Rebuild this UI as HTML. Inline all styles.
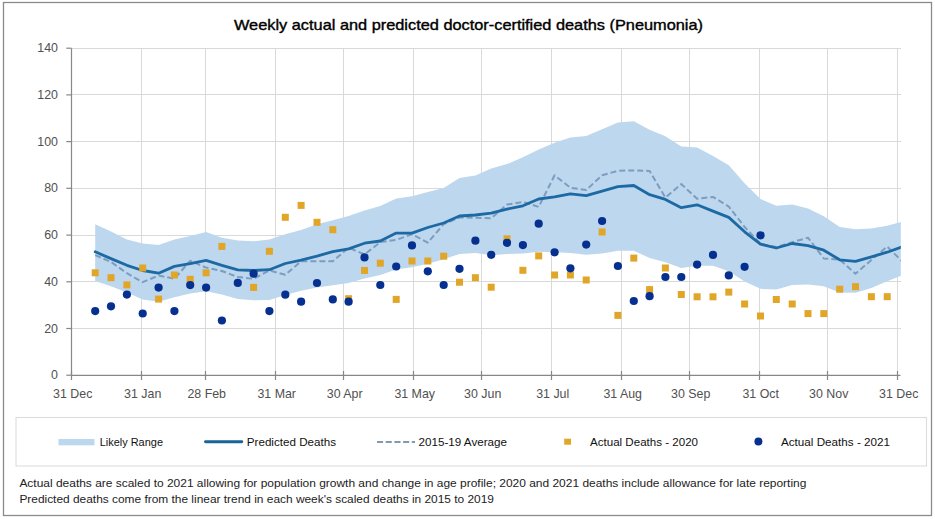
<!DOCTYPE html>
<html><head><meta charset="utf-8"><style>
html,body{margin:0;padding:0;background:#fff;}
body{width:935px;height:519px;overflow:hidden;}
svg{display:block;font-family:"Liberation Sans",sans-serif;}
</style></head><body>
<svg width="935" height="519" viewBox="0 0 935 519">
<rect x="0" y="0" width="935" height="519" fill="#fff"/>
<rect x="3.5" y="2.5" width="928" height="513" fill="none" stroke="#8a8a8a" stroke-width="1.3"/>
<text x="234" y="29.7" font-size="13.9" fill="#000" stroke="#000" stroke-width="0.35" textLength="469" lengthAdjust="spacingAndGlyphs">Weekly actual and predicted doctor-certified deaths (Pneumonia)</text>
<defs><clipPath id="pc"><rect x="72" y="40" width="828.8" height="336"/></clipPath></defs>
<g stroke="#d9d9d9" stroke-width="1" shape-rendering="crispEdges"><line x1="71.5" y1="328.5" x2="900.5" y2="328.5"/><line x1="71.5" y1="281.8" x2="900.5" y2="281.8"/><line x1="71.5" y1="235.1" x2="900.5" y2="235.1"/><line x1="71.5" y1="188.3" x2="900.5" y2="188.3"/><line x1="71.5" y1="141.6" x2="900.5" y2="141.6"/><line x1="71.5" y1="94.9" x2="900.5" y2="94.9"/><line x1="71.5" y1="48.2" x2="900.5" y2="48.2"/><line x1="141.5" y1="48.2" x2="141.5" y2="375.3"/><line x1="205.5" y1="48.2" x2="205.5" y2="375.3"/><line x1="275.5" y1="48.2" x2="275.5" y2="375.3"/><line x1="343.5" y1="48.2" x2="343.5" y2="375.3"/><line x1="413.5" y1="48.2" x2="413.5" y2="375.3"/><line x1="481.5" y1="48.2" x2="481.5" y2="375.3"/><line x1="551.5" y1="48.2" x2="551.5" y2="375.3"/><line x1="621.5" y1="48.2" x2="621.5" y2="375.3"/><line x1="689.5" y1="48.2" x2="689.5" y2="375.3"/><line x1="759.5" y1="48.2" x2="759.5" y2="375.3"/><line x1="827.5" y1="48.2" x2="827.5" y2="375.3"/><line x1="897.5" y1="48.2" x2="897.5" y2="375.3"/></g>
<g clip-path="url(#pc)">
<path d="M95.2,224.3 L111,231.5 L126.9,239.4 L142.7,243.5 L158.6,245 L174.4,239.4 L190.2,236 L206.1,232 L221.9,237.8 L237.8,240.5 L253.6,241.2 L269.4,239.5 L285.3,234.2 L301.1,230 L317,224.2 L332.8,220.2 L348.6,216 L364.5,210.5 L380.3,206 L396.2,198.5 L412,196.3 L427.8,192 L443.7,188 L459.5,178 L475.4,175.5 L491.2,168.6 L507,164.1 L522.9,157.3 L538.7,149.4 L554.6,142.7 L570.4,137.5 L586.2,135.9 L602.1,129.2 L617.9,122.4 L633.8,121.3 L649.6,129.8 L665.4,136.2 L681.3,146.4 L697.1,147.4 L713,155.9 L728.8,165.3 L744.6,183.2 L760.5,199 L776.3,205.7 L792.2,204.4 L808,208.6 L823.8,216.2 L839.7,227 L855.5,229.3 L871.4,228.4 L887.2,225.7 L903,221.5 L903,275 L887.2,281.2 L871.4,287.9 L855.5,292.7 L839.7,292.5 L823.8,286.2 L808,284.4 L792.2,284.9 L776.3,289.6 L760.5,288.8 L744.6,281.5 L728.8,271.3 L713,265.7 L697.1,265.7 L681.3,268 L665.4,262.3 L649.6,258 L633.8,250.7 L617.9,250.7 L602.1,253.6 L586.2,254.8 L570.4,253 L554.6,252.3 L538.7,251.8 L522.9,253.6 L507,254.1 L491.2,255.2 L475.4,253 L459.5,254 L443.7,259.3 L427.8,263.8 L412,267.2 L396.2,269.4 L380.3,275.1 L364.5,278.4 L348.6,283 L332.8,285.2 L317,287.5 L301.1,290.8 L285.3,295 L269.4,300 L253.6,300.2 L237.8,299.1 L221.9,294.6 L206.1,291.2 L190.2,293.5 L174.4,297.3 L158.6,301.8 L142.7,299.6 L126.9,292.4 L111,286.3 L95.2,281.1 Z" fill="#bdd7ee"/>
<polyline points="95.2,255.2 111,261.9 126.9,273.2 142.7,282.2 158.6,275.5 174.4,278.8 190.2,260.8 206.1,267.6 221.9,271 237.8,277 253.6,278.8 269.4,270.4 285.3,274.8 301.1,261.3 317,261.3 332.8,261.3 348.6,247.7 364.5,254.5 380.3,242.1 396.2,239.9 412,234.2 427.8,242.6 443.7,224.1 459.5,217.5 475.4,217.7 491.2,218.2 507,204.6 522.9,201.9 538.7,206.9 554.6,175.3 570.4,187.7 586.2,190 602.1,175.3 617.9,170.8 633.8,170.4 649.6,171 665.4,197.6 681.3,184.1 697.1,198.7 713,196.9 728.8,206.6 744.6,226.9 760.5,243.8 776.3,247.1 792.2,242.2 808,237.7 823.8,258.5 839.7,259.6 855.5,273.7 871.4,260 887.2,246.6 903,262.2" fill="none" stroke="#7c9dbf" stroke-width="2" stroke-dasharray="6 3" stroke-linejoin="round"/>
<polyline points="95.2,251.8 111,258.6 126.9,265.3 142.7,270.5 158.6,273.2 174.4,266.4 190.2,263.7 206.1,260.4 221.9,265.3 237.8,269.8 253.6,270.5 269.4,269.7 285.3,263.5 301.1,260.1 317,256.1 332.8,251.6 348.6,248.9 364.5,243.2 380.3,241 396.2,233.1 412,233.1 427.8,227.5 443.7,223 459.5,216 475.4,215 491.2,213.2 507,209.1 522.9,205.8 538.7,199 554.6,196.8 570.4,193.8 586.2,195.6 602.1,191.1 617.9,186.6 633.8,185.5 649.6,194.7 665.4,199.4 681.3,207.7 697.1,204.8 713,211.1 728.8,217.4 744.6,231.8 760.5,244.2 776.3,248 792.2,243.5 808,245.6 823.8,250.2 839.7,259.8 855.5,261.4 871.4,256.8 887.2,252.2 903,246.5" fill="none" stroke="#1c69a4" stroke-width="2.8" stroke-linejoin="round" stroke-linecap="round"/>
<g fill="#e1a527"><rect x="91.7" y="269.3" width="7" height="7"/><rect x="107.5" y="274.2" width="7" height="7"/><rect x="123.4" y="281.4" width="7" height="7"/><rect x="139.2" y="264.5" width="7" height="7"/><rect x="155.1" y="295.6" width="7" height="7"/><rect x="170.9" y="271.5" width="7" height="7"/><rect x="186.7" y="275.8" width="7" height="7"/><rect x="202.6" y="269.3" width="7" height="7"/><rect x="218.4" y="242.9" width="7" height="7"/><rect x="250.1" y="283.9" width="7" height="7"/><rect x="265.9" y="247.8" width="7" height="7"/><rect x="281.8" y="213.8" width="7" height="7"/><rect x="297.6" y="201.9" width="7" height="7"/><rect x="313.5" y="218.8" width="7" height="7"/><rect x="329.3" y="226.2" width="7" height="7"/><rect x="345.1" y="295.2" width="7" height="7"/><rect x="361" y="267" width="7" height="7"/><rect x="376.8" y="259.7" width="7" height="7"/><rect x="392.7" y="295.9" width="7" height="7"/><rect x="408.5" y="257.5" width="7" height="7"/><rect x="424.3" y="257.5" width="7" height="7"/><rect x="440.2" y="252.7" width="7" height="7"/><rect x="456" y="278.7" width="7" height="7"/><rect x="471.9" y="274.2" width="7" height="7"/><rect x="487.7" y="283.7" width="7" height="7"/><rect x="503.5" y="235.3" width="7" height="7"/><rect x="519.4" y="266.8" width="7" height="7"/><rect x="535.2" y="252.4" width="7" height="7"/><rect x="551.1" y="271.5" width="7" height="7"/><rect x="566.9" y="271.5" width="7" height="7"/><rect x="582.7" y="276.5" width="7" height="7"/><rect x="598.6" y="228.5" width="7" height="7"/><rect x="614.4" y="311.9" width="7" height="7"/><rect x="630.3" y="254.6" width="7" height="7"/><rect x="646.1" y="286.1" width="7" height="7"/><rect x="661.9" y="264.5" width="7" height="7"/><rect x="677.8" y="291" width="7" height="7"/><rect x="693.6" y="293.3" width="7" height="7"/><rect x="709.5" y="293.3" width="7" height="7"/><rect x="725.3" y="288.6" width="7" height="7"/><rect x="741.1" y="300.5" width="7" height="7"/><rect x="757" y="312.5" width="7" height="7"/><rect x="772.8" y="296" width="7" height="7"/><rect x="788.7" y="300.5" width="7" height="7"/><rect x="804.5" y="310.1" width="7" height="7"/><rect x="820.3" y="310.1" width="7" height="7"/><rect x="836.2" y="285.7" width="7" height="7"/><rect x="852" y="283.2" width="7" height="7"/><rect x="867.9" y="293.2" width="7" height="7"/><rect x="883.7" y="293.2" width="7" height="7"/></g>
<g fill="#06308f"><circle cx="95.2" cy="311.1" r="4.1"/><circle cx="111" cy="306.3" r="4.1"/><circle cx="126.9" cy="294.6" r="4.1"/><circle cx="142.7" cy="313.5" r="4.1"/><circle cx="158.6" cy="287.6" r="4.1"/><circle cx="174.4" cy="311.1" r="4.1"/><circle cx="190.2" cy="285.1" r="4.1"/><circle cx="206.1" cy="287.6" r="4.1"/><circle cx="221.9" cy="320.5" r="4.1"/><circle cx="237.8" cy="282.9" r="4.1"/><circle cx="253.6" cy="273.7" r="4.1"/><circle cx="269.4" cy="311.1" r="4.1"/><circle cx="285.3" cy="294.7" r="4.1"/><circle cx="301.1" cy="301.7" r="4.1"/><circle cx="317" cy="283" r="4.1"/><circle cx="332.8" cy="299.4" r="4.1"/><circle cx="348.6" cy="301.7" r="4.1"/><circle cx="364.5" cy="257.4" r="4.1"/><circle cx="380.3" cy="285" r="4.1"/><circle cx="396.2" cy="266.5" r="4.1"/><circle cx="412" cy="245.4" r="4.1"/><circle cx="427.8" cy="271.3" r="4.1"/><circle cx="443.7" cy="285" r="4.1"/><circle cx="459.5" cy="268.8" r="4.1"/><circle cx="475.4" cy="240.7" r="4.1"/><circle cx="491.2" cy="254.8" r="4.1"/><circle cx="507" cy="242.8" r="4.1"/><circle cx="522.9" cy="245.1" r="4.1"/><circle cx="538.7" cy="223.7" r="4.1"/><circle cx="554.6" cy="252.3" r="4.1"/><circle cx="570.4" cy="268.3" r="4.1"/><circle cx="586.2" cy="244.6" r="4.1"/><circle cx="602.1" cy="221" r="4.1"/><circle cx="617.9" cy="266" r="4.1"/><circle cx="633.8" cy="301" r="4.1"/><circle cx="649.6" cy="296.2" r="4.1"/><circle cx="665.4" cy="277" r="4.1"/><circle cx="681.3" cy="277" r="4.1"/><circle cx="697.1" cy="264.6" r="4.1"/><circle cx="713" cy="254.9" r="4.1"/><circle cx="728.8" cy="275.4" r="4.1"/><circle cx="744.6" cy="266.8" r="4.1"/><circle cx="760.5" cy="235.3" r="4.1"/></g>
</g>
<g stroke="#878787" stroke-width="1.2">
<line x1="71.5" y1="48.2" x2="71.5" y2="375.3"/>
<line x1="71.5" y1="375.3" x2="900.5" y2="375.3"/>
<line x1="66.3" y1="375.2" x2="71.5" y2="375.2"/><line x1="66.3" y1="328.5" x2="71.5" y2="328.5"/><line x1="66.3" y1="281.8" x2="71.5" y2="281.8"/><line x1="66.3" y1="235.1" x2="71.5" y2="235.1"/><line x1="66.3" y1="188.3" x2="71.5" y2="188.3"/><line x1="66.3" y1="141.6" x2="71.5" y2="141.6"/><line x1="66.3" y1="94.9" x2="71.5" y2="94.9"/><line x1="66.3" y1="48.2" x2="71.5" y2="48.2"/><line x1="71.5" y1="371" x2="71.5" y2="380"/><line x1="141.5" y1="371" x2="141.5" y2="380"/><line x1="205.5" y1="371" x2="205.5" y2="380"/><line x1="275.5" y1="371" x2="275.5" y2="380"/><line x1="343.5" y1="371" x2="343.5" y2="380"/><line x1="413.5" y1="371" x2="413.5" y2="380"/><line x1="481.5" y1="371" x2="481.5" y2="380"/><line x1="551.5" y1="371" x2="551.5" y2="380"/><line x1="621.5" y1="371" x2="621.5" y2="380"/><line x1="689.5" y1="371" x2="689.5" y2="380"/><line x1="759.5" y1="371" x2="759.5" y2="380"/><line x1="827.5" y1="371" x2="827.5" y2="380"/><line x1="897.5" y1="371" x2="897.5" y2="380"/>
</g>
<g font-size="12.4" fill="#505050"><text x="58" y="379.2" text-anchor="end">0</text><text x="58" y="332.5" text-anchor="end">20</text><text x="58" y="285.8" text-anchor="end">40</text><text x="58" y="239.1" text-anchor="end">60</text><text x="58" y="192.3" text-anchor="end">80</text><text x="58" y="145.6" text-anchor="end">100</text><text x="58" y="98.9" text-anchor="end">120</text><text x="58" y="52.2" text-anchor="end">140</text></g>
<g font-size="12.4" fill="#505050"><text x="72.7" y="397.6" text-anchor="middle">31 Dec</text><text x="142.7" y="397.6" text-anchor="middle">31 Jan</text><text x="206.7" y="397.6" text-anchor="middle">28 Feb</text><text x="276.7" y="397.6" text-anchor="middle">31 Mar</text><text x="344.7" y="397.6" text-anchor="middle">30 Apr</text><text x="414.7" y="397.6" text-anchor="middle">31 May</text><text x="482.7" y="397.6" text-anchor="middle">30 Jun</text><text x="552.7" y="397.6" text-anchor="middle">31 Jul</text><text x="622.7" y="397.6" text-anchor="middle">31 Aug</text><text x="690.7" y="397.6" text-anchor="middle">30 Sep</text><text x="760.7" y="397.6" text-anchor="middle">31 Oct</text><text x="828.7" y="397.6" text-anchor="middle">30 Nov</text><text x="898.7" y="397.6" text-anchor="middle">31 Dec</text></g>
<rect x="16" y="417.5" width="910.5" height="48.5" fill="none" stroke="#dcdcdc" stroke-width="1.1"/>
<rect x="58.5" y="439" width="36" height="6.3" fill="#bdd7ee"/>
<line x1="205.5" y1="441.7" x2="241.8" y2="441.7" stroke="#1a6399" stroke-width="2.9" stroke-linecap="round"/>
<line x1="377" y1="442" x2="415" y2="442" stroke="#8599ae" stroke-width="2" stroke-dasharray="6.1 2.6"/>
<rect x="564.2" y="438.7" width="6.8" height="6" fill="#e1a527"/>
<circle cx="758.4" cy="441.5" r="4" fill="#06308f"/>
<g font-size="11.2" fill="#111">
<text x="99.7" y="446" textLength="63.3" lengthAdjust="spacingAndGlyphs">Likely Range</text>
<text x="246.8" y="446" textLength="89.2" lengthAdjust="spacingAndGlyphs">Predicted Deaths</text>
<text x="418.5" y="446" textLength="88.5" lengthAdjust="spacingAndGlyphs">2015-19 Average</text>
<text x="590" y="446" textLength="108" lengthAdjust="spacingAndGlyphs">Actual Deaths - 2020</text>
<text x="781" y="446" textLength="109" lengthAdjust="spacingAndGlyphs">Actual Deaths - 2021</text>
</g>
<g font-size="10.7" fill="#222">
<text x="19.4" y="486.9" textLength="787" lengthAdjust="spacingAndGlyphs">Actual deaths are scaled to 2021 allowing for population growth and change in age profile; 2020 and 2021 deaths include allowance for late reporting</text>
<text x="19.4" y="502.6" textLength="474.6" lengthAdjust="spacingAndGlyphs">Predicted deaths come from the linear trend in each week's scaled deaths in 2015 to 2019</text>
</g>
</svg>
</body></html>
